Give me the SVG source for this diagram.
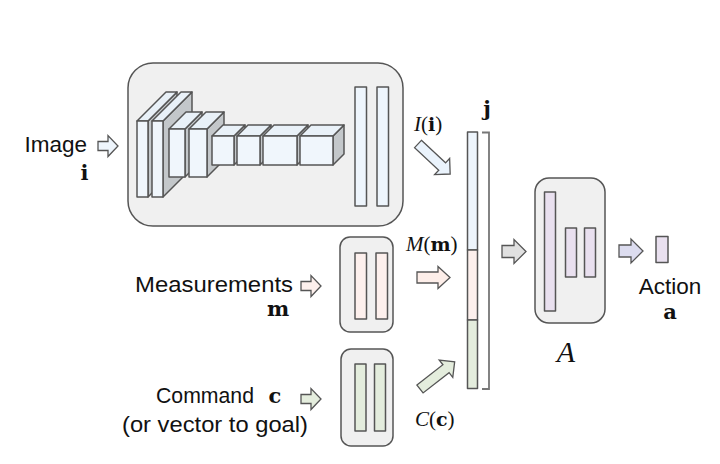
<svg xmlns="http://www.w3.org/2000/svg" width="720" height="464" viewBox="0 0 720 464">
  <style>
    .panel { fill: #f0f0f0; stroke: #555; stroke-width: 1.5; }
    .edge { stroke: #555; stroke-width: 1.5; stroke-linejoin: round; }
    .front { fill: #f0f6fc; }
    .top { fill: #e9f1f8; }
    .side { fill: #c3c7ca; }
    .blue { fill: #eef5fc; }
    .pink { fill: #fdf0ed; }
    .green { fill: #e4eddd; }
    .lav { fill: #e9e0ef; }
    .lbl { font-family: "Liberation Sans", Arial, sans-serif; font-size: 22.5px; fill: #111; }
    .math { font-family: "Liberation Serif", "Times New Roman", serif; font-size: 21px; fill: #111; }
    .it { font-style: italic; }
    .bf { font-family: "DejaVu Serif", "Liberation Serif", serif; font-weight: bold; font-size: 19px; }
    .bold { font-family: "DejaVu Serif", "Liberation Serif", serif; font-weight: bold; font-size: 21px; fill: #111; }
  </style>
  <defs>
    <path id="arrowSmall" d="M0,-4.5 H10 V-10.5 L20,0 L10,10.5 V4.5 H0 Z" stroke="#555" stroke-width="1.3"/>
    <path id="arrowMid" d="M0,-6 H12 V-12 L24,0 L12,12 V6 H0 Z" stroke="#555" stroke-width="1.3"/>
    <path id="arrowLong" d="M0,-5.5 H21 V-11 L33,0 L21,11 V5.5 H0 Z" stroke="#555" stroke-width="1.3"/>
    <path id="arrowDiag" d="M0,-5 H33 V-11 L44,0 L33,11 V5 H0 Z" stroke="#555" stroke-width="1.3"/>
  </defs>

  <rect width="720" height="464" fill="#ffffff"/>

  <!-- image encoder: conv stack + fully connected layers -->
  <g id="image-encoder">
    <rect class="panel" x="128" y="63" width="275" height="163" rx="25"/>
    <g class="edge">
      <!-- slab 1 -->
      <polygon class="side" points="148,121 177,92 177,168 148,197"/>
      <polygon class="top" points="137,121 166,92 177,92 148,121"/>
      <rect class="front" x="137" y="121" width="11" height="76"/>
      <!-- slab 2 -->
      <polygon class="side" points="163,121 192,92 192,168 163,197"/>
      <polygon class="top" points="152,121 181,92 192,92 163,121"/>
      <rect class="front" x="152" y="121" width="11" height="76"/>
      <!-- slab 3 -->
      <polygon class="side" points="185,129 202,112 202,160 185,177"/>
      <polygon class="top" points="169,129 186,112 202,112 185,129"/>
      <rect class="front" x="169" y="129" width="16" height="48"/>
      <!-- slab 4 -->
      <polygon class="side" points="207,129 224,112 224,160 207,177"/>
      <polygon class="top" points="189,129 206,112 224,112 207,129"/>
      <rect class="front" x="189" y="129" width="18" height="48"/>
      <!-- box 5 -->
      <polygon class="side" points="234,136 245,125 245,154 234,165"/>
      <polygon class="top" points="212,136 223,125 245,125 234,136"/>
      <rect class="front" x="212" y="136" width="22" height="29"/>
      <!-- box 6 -->
      <polygon class="side" points="260,136 271,125 271,154 260,165"/>
      <polygon class="top" points="237,136 248,125 271,125 260,136"/>
      <rect class="front" x="237" y="136" width="23" height="29"/>
      <!-- box 7 -->
      <polygon class="side" points="297,136 308,125 308,154 297,165"/>
      <polygon class="top" points="263,136 274,125 308,125 297,136"/>
      <rect class="front" x="263" y="136" width="34" height="29"/>
      <!-- box 8 -->
      <polygon class="side" points="333,136 344,125 344,154 333,165"/>
      <polygon class="top" points="300,136 311,125 344,125 333,136"/>
      <rect class="front" x="300" y="136" width="33" height="29"/>
      <!-- fully connected -->
      <rect class="blue" x="355" y="87" width="11.5" height="119"/>
      <rect class="blue" x="377" y="87" width="11.5" height="119"/>
    </g>
  </g>

  <!-- measurement module -->
  <g id="measurement-module">
    <rect class="panel" x="340" y="237" width="53" height="95" rx="10"/>
    <rect class="pink edge" x="355" y="253" width="11.5" height="66"/>
    <rect class="pink edge" x="376" y="253" width="11.5" height="66"/>
  </g>

  <!-- command module -->
  <g id="command-module">
    <rect class="panel" x="341" y="349" width="52" height="97" rx="10"/>
    <rect class="green edge" x="355" y="364" width="11" height="67"/>
    <rect class="green edge" x="374.5" y="364" width="11" height="67"/>
  </g>

  <!-- joint representation j -->
  <g id="joint-vector">
    <rect class="blue edge" x="467.5" y="132" width="10" height="118"/>
    <rect class="pink edge" x="467.5" y="250" width="10" height="70"/>
    <rect class="green edge" x="467.5" y="320" width="10" height="68.5"/>
    <path d="M482,132.5 H489 V389 H482" fill="none" stroke="#777" stroke-width="1.8"/>
    <text class="bold" x="487" y="116" text-anchor="middle">j</text>
  </g>

  <!-- action module A -->
  <g id="action-module">
    <rect class="panel" x="535" y="178" width="70" height="145" rx="14"/>
    <rect class="lav edge" x="544.5" y="192" width="11" height="119"/>
    <rect class="lav edge" x="565.5" y="228" width="11" height="49"/>
    <rect class="lav edge" x="584.5" y="228" width="11" height="49"/>
    <text x="566" y="362" text-anchor="middle" font-family="'Liberation Serif', 'Times New Roman', serif" font-style="italic" font-size="30" fill="#111">A</text>
  </g>

  <!-- action output -->
  <g id="action-output">
    <rect class="lav edge" x="656" y="236.5" width="12" height="26"/>
    <text class="lbl" x="670" y="294" text-anchor="middle">Action</text>
    <text class="bold" x="670" y="319" text-anchor="middle">a</text>
  </g>

  <!-- input labels -->
  <g id="input-image">
    <text class="lbl" x="87" y="152" text-anchor="end">Image</text>
    <text class="bold" x="84.5" y="180" text-anchor="middle">i</text>
  </g>
  <g id="input-measurements">
    <text class="lbl" x="135" y="292" textLength="158" lengthAdjust="spacingAndGlyphs">Measurements</text>
    <text class="bold" x="278" y="316" text-anchor="middle">m</text>
  </g>
  <g id="input-command">
    <text class="lbl" x="156" y="403" textLength="98" lengthAdjust="spacingAndGlyphs">Command</text>
    <text class="bold" x="275" y="403" text-anchor="middle">c</text>
    <text class="lbl" x="122" y="432" textLength="186" lengthAdjust="spacingAndGlyphs">(or vector to goal)</text>
  </g>

  <!-- feature labels -->
  <g id="feature-labels">
    <text class="math" x="414" y="131"><tspan class="it">I</tspan>(<tspan class="bf">i</tspan>)</text>
    <text class="math" x="406" y="251"><tspan class="it">M</tspan>(<tspan class="bf">m</tspan>)</text>
    <text class="math" x="415" y="426"><tspan class="it">C</tspan>(<tspan class="bf">c</tspan>)</text>
  </g>

  <!-- connectors -->
  <g id="connectors">
    <use href="#arrowSmall" x="98" y="146" fill="#eef5fc"/>
    <use href="#arrowSmall" x="301" y="286" fill="#fdf0ed"/>
    <use href="#arrowSmall" x="301" y="399" fill="#e4eddd"/>
    <use href="#arrowDiag" transform="translate(418,144) rotate(43)" fill="#eaf3fc"/>
    <use href="#arrowLong" x="417" y="277.5" fill="#fdeee9"/>
    <use href="#arrowDiag" transform="translate(420,389) rotate(-38)" fill="#e4eddd"/>
    <use href="#arrowMid" x="502" y="251.5" fill="#e0e0e0"/>
    <use href="#arrowMid" x="619" y="251" fill="#dcdcef"/>
  </g>
</svg>
